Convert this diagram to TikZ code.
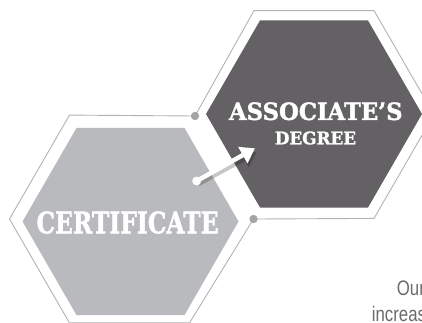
\documentclass[tikz,border=0pt]{standalone}
\usepackage{fontspec}
\usepackage{graphicx}
\usetikzlibrary{positioning, shapes.geometric, arrows.meta}
\newfontfamily\slabfont{DejaVu Serif}[BoldFeatures={FakeBold=1.6}]
\newfontfamily\bodyfont{Liberation Sans}
\definecolor{hexdark}{HTML}{636163}
\definecolor{hexlight}{HTML}{B9BABD}
\definecolor{rimgray}{HTML}{B2B2B4}
\definecolor{dotgray}{HTML}{A5A5A8}
\definecolor{bodygray}{HTML}{6B6B6B}

\begin{document}
\begin{tikzpicture}[x=1pt, y=-1pt, >={Triangle[length=14pt, width=18pt]},
	hexfill/.style={regular polygon, regular polygon sides=6, minimum size=216pt, inner sep=0pt, outer sep=0pt},
	hexrim/.style={regular polygon, regular polygon sides=6, minimum size=240pt, inner sep=0pt, outer sep=0pt},
	rimline/.style={draw=rimgray, line width=0.9pt},
	joint/.style={circle, fill=dotgray, minimum size=8pt, inner sep=0pt},
	hexlabel/.style={text=white, inner sep=0pt},
	bodytext/.style={text=bodygray, inner sep=0pt, anchor=base west, font=\bodyfont\fontsize{21}{21}\selectfont}]
		\useasboundingbox (0,0) rectangle (422,322);
		\node[hexrim] (darkrim) at (314,114.5) {};
		\node[hexrim] (lightrim) at (129.5,219) {};
		\node[joint] (jointop) at (195,116) {};
		\node[joint] (jointbot) at (253.5,219) {};
		\draw[rimline] (jointop.center) -- (darkrim.120) -- (darkrim.60) -- (darkrim.0) -- (darkrim.300) -- (jointbot.center);
		\draw[rimline] (jointop.center) -- (lightrim.120) -- (lightrim.180) -- (lightrim.240) -- (lightrim.300) -- (jointbot.center);
		\node[joint] at (jointop) {};
		\node[joint] at (jointbot) {};
		\node[hexfill, fill=hexlight] (certhex) at (130.5,221.5) {};
		\node[hexfill, fill=hexdark] (assochex) at (314,114) {};
		\node[hexlabel, font=\slabfont\bfseries\fontsize{23.7}{24}\selectfont] (assoc) at (315.8,111.3) {\scalebox{0.96}[1]{ASSOCIATE’S}};
		\node[hexlabel, font=\slabfont\bfseries\fontsize{17.3}{18}\selectfont] (degree) at (315.5,138) {\scalebox{0.97}[1]{DEGREE}};
		\node[hexlabel, font=\slabfont\bfseries\fontsize{29.6}{30}\selectfont] (cert) at (127.5,222.5) {\scalebox{0.79}[1]{CERTIFICATE}};
		\coordinate (arrtip) at (255,148.3);
		\begin{scope}[transparency group, opacity=0.22]
			\draw[->, line width=4.5pt, black] (198.5,184) -- (256.5,152.3);
		\end{scope}
		\node[circle, fill=white, minimum size=9pt, inner sep=0pt] (arrdot) at (196.7,181) {};
		\draw[->, line width=4.5pt, white] (arrdot.center) -- (arrtip);
		\node[bodytext] (bodyone) at (396.7,295) {\scalebox{0.8}[1]{Our}};
		\node[bodytext] (bodytwo) at (371.7,321) {\scalebox{0.8}[1]{increas}};
	\end{tikzpicture}
\end{document}
